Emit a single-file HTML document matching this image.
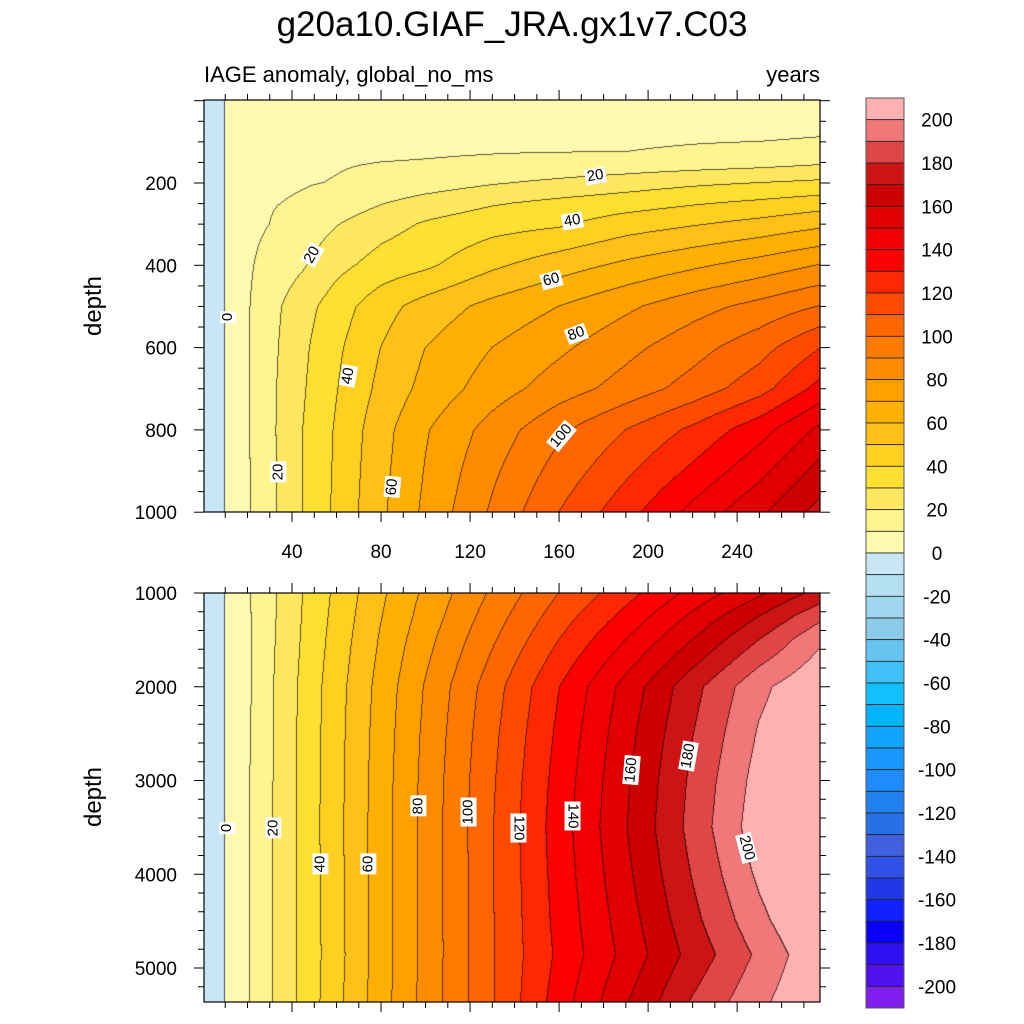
<!DOCTYPE html>
<html><head><meta charset="utf-8">
<style>
html,body{margin:0;padding:0;background:#fff;}
#wrap{position:relative;width:1024px;height:1024px;overflow:hidden;font-family:"Liberation Sans",sans-serif;}
canvas,svg{position:absolute;left:0;top:0;}
.lbl{position:absolute;background:#fff;font-size:15px;line-height:16px;padding:0 2px;color:#000;transform-origin:center center;white-space:nowrap;}
</style></head>
<body>
<div id="wrap">
<canvas id="cv" width="1024" height="1024"></canvas>
<svg id="sv" width="1024" height="1024" xmlns="http://www.w3.org/2000/svg"></svg>
</div>
<script>
// ---- data ----
const times=[0,10,20,30,45,60,80,100,130,160,190,220,250,280];
const topDepths=[0,50,100,125,150,200,250,300,400,500,600,700,800,900,1000];
const topValues=[
[-3,0,2,3,4,4.5,5,5.5,6,6,6.5,7,7,7.5],
[-3,0,3,4,5,5.5,6,6.5,7,7,7.5,8,8,8.5],
[-3,0,4,6,7,7.5,8,8.5,9,9,9.5,9.8,10,10.5],
[-3,0,5,7,8,8.5,9,9.3,9.7,9.9,10,10.5,11,12.5],
[-3,0,6,8,9,9.5,10,10.3,11,12,13,14.5,16,18.5],
[-3,0,6.5,8.5,9.5,10.3,12,15,19,22,25,28,30,32],
[-3,0,7,9.5,11,14,19.5,24,29,32.5,35.5,39,42,45.5],
[-3,0,7.5,10,14,19.5,26,31,36,38.5,45,49,53,58],
[-3,0,8.5,13.5,19,27,34,38,48,55.5,62,68,74,81],
[-3,0,9,16.5,26,35,46,54,63,70,78,86,93,101],
[-3,0,9,17,28,38,50,60,70,78,87,96,106,121],
[-3,0,9,17.5,29,39.5,52.5,63,75,85,94,104,116,135],
[-3,0,9,17.5,30,41,56,69,84,98,110,122,136,154],
[-3,0,8.8,17.3,30,41.5,57,70.5,88,104,118,132,147,165],
[-3,0,8.5,17,30,42,58,72,91.5,110,126,143,158,175]
];
const botDepths=[1000,1250,1500,2000,2500,3000,3500,4000,4500,4860,5363];
const botValues=[
[-3,0,8.5,17,30,42,58,72,91.5,110,126,143,158,175],
[-3.5,0,8.4,17.3,30.5,43,59.5,74,95,115,133,152,170,189],
[-4,0,8.3,17.6,31,44,61,76.5,98.5,120,140,160,180,200],
[-5,0,8,18.2,32.2,45.8,63.5,80.7,105.3,129.7,153.4,176.4,197.5,210],
[-5,0,8.5,18.3,32.5,46.3,64.4,82,107.3,132,156.2,179.6,201,212],
[-5,0,8.8,18.4,32.7,46.6,65,82.8,108.6,133.8,158.3,182,204,218],
[-5,0,9,18.5,32.8,46.8,65.3,83.2,109.4,134.9,159.4,183.3,206,222],
[-5,0,9,18.6,32.6,46.6,65.2,83.1,109.3,134,157.5,180.5,202,218],
[-5,0,8.9,18.6,32.5,46.4,65.1,83,109.2,133,155,177,197,214],
[-5,0,8.7,18.7,32.3,46.2,65,82.9,109.2,132,153.1,173.5,192,210],
[-5,0,9,18.7,32.5,47,65.5,83.5,109,134.7,159,181,197.5,212]
];
const bandColors=["#8020f0","#5010f0","#3010f0","#0800f8","#1020ff","#2038e8","#3050e8","#4060e0","#2870e8","#2080f0","#1e8cff","#1898ff","#10a4ff","#00b4ff","#10c0ff","#40c0f8","#66c4f0","#8ccbe8","#a0d6ee","#b4def2","#c8e6f5",
"#fffab0","#fff490","#ffe860","#ffe030","#ffd020","#ffc018","#ffb000","#ffa000","#ff8c00","#ff7a00","#ff6600","#ff4a00","#ff2800","#ff0000","#f00000","#e00000","#cc0000","#cc1414","#e04646","#f07878","#ffb0b0"];
const colorbarLabels=["200","180","160","140","120","100","80","60","40","20","0","-20","-40","-60","-80","-100","-120","-140","-160","-180","-200"];
const xTickLabels=["40","80","120","160","200","240"];
const xTickValues=[40,80,120,160,200,240];
const topYTickValues=[200,400,600,800,1000];
const botYTickValues=[1000,2000,3000,4000,5000];

// ---- scales ----
const X0=204,X1=820;
const xS=t=>203+t*2.2255;
const yTop=d=>100.7+d*0.4115;
const yBot=d=>593+(d-1000)*0.09375;
const TOP={y0:100,y1:512,inv:y=>(y-100.7)/0.4115,depths:topDepths,vals:topValues};
const BOT={y0:593,y1:1002,inv:y=>1000+(y-593)/0.09375,depths:botDepths,vals:botValues};

function seg(arr,v){let i=0;while(i<arr.length-2&&v>arr[i+1])i++;let f=(v-arr[i])/(arr[i+1]-arr[i]);return [i,Math.max(0,Math.min(1,f))];}
function field(t,d,P){const [i,fx]=seg(times,t);const [j,fy]=seg(P.depths,d);const V=P.vals;
 const a=V[j][i]*(1-fx)+V[j][i+1]*fx,b=V[j+1][i]*(1-fx)+V[j+1][i+1]*fx;return a*(1-fy)+b*fy;}
function band(v){let k=Math.floor(v/10)+21;return Math.max(0,Math.min(41,k));}
function hex(c){return [parseInt(c.substr(1,2),16),parseInt(c.substr(3,2),16),parseInt(c.substr(5,2),16)];}
const rgb=bandColors.map(hex);

const cv=document.getElementById('cv');const ctx=cv.getContext('2d');
function drawPanel(P){
 const w=X1-X0,h=P.y1-P.y0;const img=ctx.createImageData(w,h);
 const B=[];
 for(let y=0;y<h;y++){const row=[];const d=P.inv(P.y0+y+0.5);
  for(let x=0;x<w;x++){const t=(X0+x+0.5-203)/2.2255;row.push(band(field(t,d,P)));}B.push(row);}
 for(let y=0;y<h;y++)for(let x=0;x<w;x++){const b=B[y][x];let c=rgb[b];
  let edge=(x<w-1&&B[y][x+1]!==b)||(y<h-1&&B[y+1][x]!==b);
  const k=(y*w+x)*4;
  if(edge){img.data[k]=c[0]*0.35;img.data[k+1]=c[1]*0.35;img.data[k+2]=c[2]*0.35;}
  else{img.data[k]=c[0];img.data[k+1]=c[1];img.data[k+2]=c[2];}
  img.data[k+3]=255;}
 ctx.putImageData(img,X0,P.y0);
}
drawPanel(TOP);drawPanel(BOT);

// ---- svg ----
const NS="http://www.w3.org/2000/svg";const sv=document.getElementById('sv');
function mk(tag,attrs,parent){const e=document.createElementNS(NS,tag);for(const k in attrs)e.setAttribute(k,attrs[k]);(parent||sv).appendChild(e);return e;}
function txt(s,x,y,size,anchor,name,extra){const e=mk('text',Object.assign({x:x,y:y,'font-size':size,'text-anchor':anchor||'middle','font-family':'Liberation Sans, sans-serif',fill:'#000'},extra||{}));e.textContent=s;
 
 return e;}

function frame(P,name){
 const r=mk('rect',{x:X0,y:P.y0,width:X1-X0,height:P.y1-P.y0,fill:'none',stroke:'#000','stroke-width':1.2});
 
 
 for(let t=10;t<=270;t+=10){const x=xS(t);const major=(t%40===0);const L=major?10:6;
  const a=mk('line',{x1:x,y1:P.y0,x2:x,y2:P.y0-L,stroke:'#000','stroke-width':1});
  
  
  const b=mk('line',{x1:x,y1:P.y1,x2:x,y2:P.y1+L,stroke:'#000','stroke-width':1});
  
  }
}
frame(TOP,'top-panel-frame');frame(BOT,'bottom-panel-frame');
function yticks(P,ys,minorStep,majorStep,dmin,dmax){
 for(let d=dmin;d<=dmax;d+=minorStep){const y=ys(d);if(y<P.y0-0.5||y>P.y1+0.5)continue;const major=(d%majorStep===0);const L=major?10:6;
  const a=mk('line',{x1:X0,y1:y,x2:X0-L,y2:y,stroke:'#000','stroke-width':1});
  
  
  const b=mk('line',{x1:X1,y1:y,x2:X1+L,y2:y,stroke:'#000','stroke-width':1});
  
  }
}
yticks(TOP,yTop,50,200,0,1000);yticks(BOT,yBot,200,1000,1000,5400);
topYTickValues.forEach(v=>txt(String(v),177,yTop(v)+7,19,'end','top-y-tick-label'));
botYTickValues.forEach(v=>txt(String(v),177,yBot(v)+7,19,'end','bottom-y-tick-label'));
xTickValues.forEach((v,i)=>txt(xTickLabels[i],xS(v),558,19,'middle','x-tick-label'));
txt('g20a10.GIAF_JRA.gx1v7.C03',512,36,35,'middle','chart-title');
txt('IAGE anomaly, global_no_ms',204,82,22,'start','subtitle-left');
txt('years',820,82,22,'end','units-label');
txt('depth',0,0,24,'middle','top-y-axis-title',{transform:'translate(101,306) rotate(-90)'});
txt('depth',0,0,24,'middle','bottom-y-axis-title',{transform:'translate(101,797) rotate(-90)'});

// colorbar
const CB={x:866,y:98,w:38,h:910};const bh=CB.h/42;
for(let i=0;i<42;i++){const c=bandColors[41-i];
 const r=mk('rect',{x:CB.x,y:CB.y+i*bh,width:CB.w,height:bh,fill:c,stroke:'#222','stroke-width':0.8});
 
 }
const cbf=mk('rect',{x:CB.x,y:CB.y,width:CB.w,height:CB.h,fill:'none',stroke:'#555','stroke-width':1});


colorbarLabels.forEach((s,i)=>txt(s,937,CB.y+(2*i+1)*bh+7,19,'middle','colorbar-label'));

// contour labels
const labels=[
["0",228,317,-90],["20",312,255,-60],["20",595,176,-10],["40",572,221,-10],["60",551,280,-15],["80",576,334,-20],["100",561,436,-50],["40",348,376,-80],["20",278,472,-90],["60",392,487,-85],
["0",227,828,-90],["20",273,828,-90],["40",320,864,-90],["60",368,864,-90],["80",418,806,-90],["100",468,812,-90],["120",518,828,90],["140",572,816,90],["160",631,770,-85],["180",688,756,-80],["200",746,848,75]];
const wrap=document.getElementById('wrap');
labels.forEach(l=>{const d=document.createElement('div');d.className='lbl';d.textContent=l[0];
 
 
 wrap.appendChild(d);const w=d.offsetWidth,h=d.offsetHeight;
 d.style.left=(l[1]-w/2)+'px';d.style.top=(l[2]-h/2)+'px';d.style.transform='rotate('+l[3]+'deg)';});
</script>
</body></html>
